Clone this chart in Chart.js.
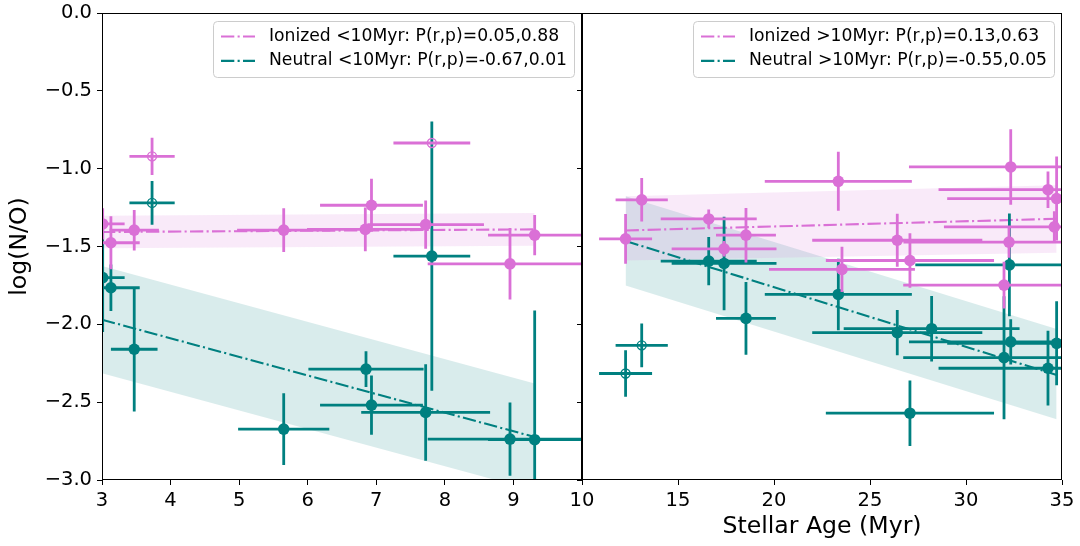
<!DOCTYPE html>
<html>
<head>
<meta charset="utf-8">
<script src="https://cdn.jsdelivr.net/npm/chart.js@4.4.0/dist/chart.umd.min.js"></script>
<style>
  html, body { margin: 0; padding: 0; background: #fff; }
  #wrap { position: relative; width: 1080px; height: 546px; overflow: hidden; }
  #young { position: absolute; left: 0; top: 0; }
  #old { position: absolute; left: 560px; top: 0; }
</style>
</head>
<body>
<div id="wrap">
  <canvas id="young" width="583" height="546"></canvas>
  <canvas id="old" width="520" height="546"></canvas>
</div>
<script>
const PINK = '#da70d6';
const TEAL = '#008080';
const FONT = 'DejaVu Sans';

// ---- stellar age < 10 Myr ----
const ionYoungX    = [3.01, 3.13, 3.47, 5.65, 6.84, 6.93, 7.72, 8.95, 9.31];
const ionYoungY    = [-1.355, -1.476, -1.395, -1.395, -1.39, -1.235, -1.359, -1.611, -1.427];
const ionYoungXErr = [0.32, 0.42, 0.36, 0.68, 0.85, 0.75, 0.85, 1.2, 0.68];
const ionYoungYErr = [0.10, 0.17, 0.13, 0.14, 0.14, 0.17, 0.155, 0.23, 0.13];

const ionYoungOpenX    = [3.73, 7.81];
const ionYoungOpenY    = [-0.921, -0.835];
const ionYoungOpenXErr = [0.33, 0.56];
const ionYoungOpenYErr = [0.12, 0.0];

const neuYoungX    = [3.01, 3.13, 3.47, 5.65, 6.85, 6.93, 7.72, 7.81, 8.95, 9.31];
const neuYoungY    = [-1.70, -1.765, -2.16, -2.673, -2.288, -2.519, -2.566, -1.562, -2.737, -2.741];
const neuYoungXErr = [0.32, 0.42, 0.34, 0.665, 0.84, 0.75, 0.94, 0.56, 1.2, 0.68];
const neuYoungYErr = [0.35, 0.15, 0.40, 0.23, 0.115, 0.19, 0.31, 0.865, 0.235, 0.83];

const neuYoungOpenX    = [3.73];
const neuYoungOpenY    = [-1.22];
const neuYoungOpenXErr = [0.33];
const neuYoungOpenYErr = [0.14];

// linear fits with confidence bands
const fitYoungX     = [3.0, 9.31];
const ionYoungFit   = [-1.407, -1.390];
const ionYoungHi    = [-1.302, -1.285];
const ionYoungLo    = [-1.512, -1.495];
const neuYoungFit   = [-1.970, -2.724];
const neuYoungHi    = [-1.626, -2.380];
const neuYoungLo    = [-2.314, -3.068];

// ---- stellar age > 10 Myr ----
const ionOldX    = [12.27, 13.11, 16.6, 17.4, 18.54, 23.35, 23.54, 26.42, 27.08, 31.98, 32.24, 32.33, 34.27, 34.6, 34.72];
const ionOldY    = [-1.451, -1.20, -1.323, -1.515, -1.427, -1.081, -1.647, -1.46, -1.59, -1.748, -1.472, -0.989, -1.135, -1.374, -1.192];
const ionOldXErr = [1.38, 1.36, 2.5, 2.73, 1.56, 3.83, 3.8, 4.43, 4.38, 5.25, 5.5, 5.3, 5.7, 5.75, 5.7];
const ionOldYErr = [0.16, 0.14, 0.06, 0.05, 0.175, 0.19, 0.145, 0.17, 0.175, 0.15, 0.10, 0.243, 0.117, 0.10, 0.27];

const neuOldX    = [16.6, 17.4, 18.54, 23.35, 26.42, 27.08, 28.21, 31.98, 32.26, 32.33, 34.27, 34.72];
const neuOldY    = [-1.594, -1.609, -1.962, -1.808, -2.053, -2.571, -2.028, -2.214, -1.618, -2.113, -2.282, -2.122];
const neuOldXErr = [2.5, 2.73, 1.56, 3.83, 4.43, 4.38, 4.58, 5.25, 4.9, 5.3, 5.7, 5.7];
const neuOldYErr = [0.155, 0.30, 0.234, 0.23, 0.145, 0.21, 0.21, 0.395, 0.33, 0.145, 0.24, 0.27];

const neuOldOpenX    = [12.27, 13.11];
const neuOldOpenY    = [-2.316, -2.135];
const neuOldOpenXErr = [1.38, 1.36];
const neuOldOpenYErr = [0.15, 0.14];

const fitOldX   = [12.27, 34.72];
const ionOldFit = [-1.397, -1.322];
const ionOldHi  = [-1.177, -1.107];
const ionOldLo  = [-1.590, -1.540];
const neuOldFit = [-1.465, -2.325];
const neuOldHi  = [-1.177, -2.030];
const neuOldLo  = [-1.750, -2.610];

const yTicks = [0, -0.5, -1.0, -1.5, -2.0, -2.5, -3.0];
const youngTicks = [3, 4, 5, 6, 7, 8, 9, 10];
const oldTicks = [10, 15, 20, 25, 30, 35];

const DASHDOT = [13.3, 3.3, 2.1, 3.3];

function pts(xs, ys) {
  return xs.map((x, i) => ({ x: x, y: ys[i] }));
}

function band(xs, ys, color, fill, order) {
  return {
    type: 'line', data: pts(xs, ys), borderWidth: 0, pointRadius: 0,
    backgroundColor: color, fill: fill, order: order, clip: 0
  };
}

function fitLine(xs, ys, color) {
  return {
    type: 'line', data: pts(xs, ys), borderColor: color, borderWidth: 2.1,
    borderDash: DASHDOT, pointRadius: 0, fill: false, order: 5, clip: 0
  };
}

function markers(xs, ys, xe, ye, color, open, order) {
  return {
    type: 'scatter', data: pts(xs, ys), errX: xe, errY: ye, errColor: color,
    pointRadius: open ? 4.5 : 5.8,
    pointBackgroundColor: open ? 'rgba(0,0,0,0)' : color,
    pointBorderColor: color,
    pointBorderWidth: open ? 1.4 : 0,
    pointHoverRadius: open ? 4.5 : 5.8,
    order: order, clip: 0
  };
}

// horizontal and vertical error bars, drawn just under each marker set
const errorBars = {
  id: 'errorBars',
  beforeDatasetDraw(chart, args) {
    const ds = chart.data.datasets[args.index];
    if (!ds.errX) return;
    const xs = chart.scales.x, ys = chart.scales.y, a = chart.chartArea;
    const ctx = chart.ctx;
    ctx.save();
    ctx.beginPath();
    ctx.rect(a.left, a.top, a.right - a.left, a.bottom - a.top);
    ctx.clip();
    ctx.strokeStyle = ds.errColor;
    ctx.lineWidth = 2.8;
    ctx.lineCap = 'butt';
    ds.data.forEach((p, i) => {
      const px = xs.getPixelForValue(p.x), py = ys.getPixelForValue(p.y);
      ctx.beginPath();
      ctx.moveTo(xs.getPixelForValue(p.x - ds.errX[i]), py);
      ctx.lineTo(xs.getPixelForValue(p.x + ds.errX[i]), py);
      if (ds.errY[i] > 0) {
        ctx.moveTo(px, ys.getPixelForValue(p.y + ds.errY[i]));
        ctx.lineTo(px, ys.getPixelForValue(p.y - ds.errY[i]));
      }
      ctx.stroke();
    });
    ctx.restore();
  }
};

// full box around the plotting area
const frame = {
  id: 'frame',
  afterDatasetsDraw(chart) {
    const a = chart.chartArea, ctx = chart.ctx;
    ctx.save();
    ctx.strokeStyle = '#000';
    ctx.lineWidth = 1;
    const l = Math.round(a.left) + 0.5, r = Math.round(a.right) - 0.5;
    const t = Math.round(a.top) + 0.5, b = Math.round(a.bottom) - 0.5;
    ctx.strokeRect(l, t, r - l, b - t);
    ctx.restore();
  }
};

// legend box in the upper right corner of the panel
const cornerLegend = {
  id: 'cornerLegend',
  afterDraw(chart, args, opts) {
    const a = chart.chartArea, ctx = chart.ctx;
    const w = 361, h = 56;
    const x0 = a.right - 8 - w, y0 = a.top + 8;
    ctx.save();
    ctx.beginPath();
    ctx.roundRect(x0 + 0.5, y0 + 0.5, w, h, 4);
    ctx.fillStyle = 'rgba(255,255,255,0.8)';
    ctx.fill();
    ctx.strokeStyle = '#cccccc';
    ctx.lineWidth = 1;
    ctx.stroke();
    ctx.font = '17.2px "' + FONT + '"';
    ctx.textBaseline = 'middle';
    opts.items.forEach((it, i) => {
      const y = y0 + 15.5 + i * 24.4;
      ctx.beginPath();
      ctx.setLineDash(DASHDOT);
      ctx.strokeStyle = it.color;
      ctx.lineWidth = 2.1;
      ctx.moveTo(x0 + 8, y);
      ctx.lineTo(x0 + 42, y);
      ctx.stroke();
      ctx.setLineDash([]);
      ctx.fillStyle = '#000';
      ctx.fillText(it.text, x0 + 56, y);
    });
    ctx.restore();
  }
};

function fmtY(v) {
  return (v < 0 ? '\u2212' : '') + Math.abs(v).toFixed(1);
}

function makePanel(id, cfg) {
  return new Chart(document.getElementById(id), {
    type: 'scatter',
    data: { datasets: cfg.datasets },
    options: {
      responsive: false,
      animation: false,
      events: [],
      layout: { padding: cfg.padding, autoPadding: false },
      plugins: {
        legend: { display: false },
        tooltip: { enabled: false },
        cornerLegend: { items: cfg.legend }
      },
      scales: {
        x: {
          type: 'linear', min: cfg.xMin, max: cfg.xMax,
          afterFit(s) { s.height = 66; s.paddingLeft = 0; s.paddingRight = 0; },
          afterBuildTicks(s) { s.ticks = cfg.xTicks.map(v => ({ value: v })); },
          ticks: {
            color: '#000', padding: 4, maxRotation: 0, autoSkip: false,
            font: { family: FONT, size: 19.5 },
            callback: cfg.xLabel
          },
          grid: { drawOnChartArea: false, drawTicks: true, tickLength: 5, color: '#000' },
          border: { display: false },
          title: cfg.xTitle
        },
        y: {
          type: 'linear', min: -3, max: 0,
          afterFit(s) { s.width = cfg.yWidth; s.paddingTop = 0; s.paddingBottom = 0; },
          afterBuildTicks(s) { s.ticks = yTicks.map(v => ({ value: v })); },
          ticks: {
            display: cfg.yLabels, color: '#000', padding: 5,
            font: { family: FONT, size: 19.5 },
            callback: fmtY
          },
          grid: { drawOnChartArea: false, drawTicks: true, tickLength: 5, color: '#000' },
          border: { display: false },
          title: cfg.yTitle
        }
      }
    },
    plugins: [errorBars, frame, cornerLegend]
  });
}

makePanel('young', {
  xMin: 3, xMax: 10, xTicks: youngTicks,
  xLabel: v => (v === 10 ? '' : String(v)),
  xTitle: { display: false },
  yWidth: 102, yLabels: true,
  yTitle: {
    display: true, text: 'log(N/O)', color: '#000',
    font: { family: FONT, size: 23.6 }, padding: { top: 6, bottom: 0 }
  },
  padding: { top: 13, right: 1, bottom: 0, left: 0 },
  legend: [
    { color: PINK, text: 'Ionized <10Myr: P(r,p)=0.05,0.88' },
    { color: TEAL, text: 'Neutral <10Myr: P(r,p)=-0.67,0.01' }
  ],
  datasets: [
    band(fitYoungX, ionYoungHi, 'rgba(218,112,214,0.15)', false, 10),
    band(fitYoungX, ionYoungLo, 'rgba(218,112,214,0.15)', '-1', 10),
    band(fitYoungX, neuYoungHi, 'rgba(0,128,128,0.15)', false, 10),
    band(fitYoungX, neuYoungLo, 'rgba(0,128,128,0.15)', '-1', 10),
    fitLine(fitYoungX, ionYoungFit, PINK),
    fitLine(fitYoungX, neuYoungFit, TEAL),
    markers(neuYoungX, neuYoungY, neuYoungXErr, neuYoungYErr, TEAL, false, 4),
    markers(neuYoungOpenX, neuYoungOpenY, neuYoungOpenXErr, neuYoungOpenYErr, TEAL, true, 3),
    markers(ionYoungX, ionYoungY, ionYoungXErr, ionYoungYErr, PINK, false, 2),
    markers(ionYoungOpenX, ionYoungOpenY, ionYoungOpenXErr, ionYoungOpenYErr, PINK, true, 1)
  ]
});

makePanel('old', {
  xMin: 10, xMax: 35, xTicks: oldTicks,
  xLabel: v => String(v),
  xTitle: {
    display: true, text: 'Stellar Age (Myr)', color: '#000',
    font: { family: FONT, size: 23.6 }, padding: { top: 0, bottom: 5 }
  },
  yWidth: 22, yLabels: false,
  yTitle: { display: false },
  padding: { top: 13, right: 18, bottom: 0, left: 0 },
  legend: [
    { color: PINK, text: 'Ionized >10Myr: P(r,p)=0.13,0.63' },
    { color: TEAL, text: 'Neutral >10Myr: P(r,p)=-0.55,0.05' }
  ],
  datasets: [
    band(fitOldX, ionOldHi, 'rgba(218,112,214,0.15)', false, 10),
    band(fitOldX, ionOldLo, 'rgba(218,112,214,0.15)', '-1', 10),
    band(fitOldX, neuOldHi, 'rgba(0,128,128,0.15)', false, 10),
    band(fitOldX, neuOldLo, 'rgba(0,128,128,0.15)', '-1', 10),
    fitLine(fitOldX, ionOldFit, PINK),
    fitLine(fitOldX, neuOldFit, TEAL),
    markers(neuOldX, neuOldY, neuOldXErr, neuOldYErr, TEAL, false, 4),
    markers(neuOldOpenX, neuOldOpenY, neuOldOpenXErr, neuOldOpenYErr, TEAL, true, 3),
    markers(ionOldX, ionOldY, ionOldXErr, ionOldYErr, PINK, false, 2)
  ]
});
</script>
</body>
</html>
